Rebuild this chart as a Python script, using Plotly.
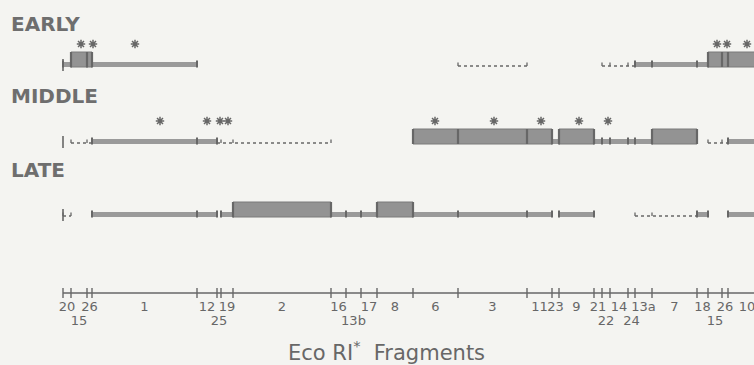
import numpy as np
import plotly.graph_objects as go

# ---------------- data ----------------
fragment_names = ['20', '15', '26', '1', '12', '25', '19', '2', '16', '13b', '17', '8', '6', '3',
                  '11', '23', '9', '21', '22', '14', '24', '13a', '7', '18', '15', '26', '10']
fragment_lengths = [8, 16, 5, 105, 20, 4, 12, 98, 15, 15, 16, 36, 45, 69,
                    25, 7, 35, 8, 8, 18, 7, 17, 45, 11, 14, 6, 38]

row_names = ['EARLY', 'MIDDLE', 'LATE']
# (kind, first fragment index, end fragment index exclusive)
early_segments = [('thin', 0, 4), ('box', 1, 3), ('dot', 13, 14), ('dot', 18, 21),
                  ('thin', 21, 24), ('box', 24, 27)]
middle_segments = [('dot', 1, 3), ('thin', 3, 5), ('dot', 5, 8), ('box', 12, 15), ('thin', 15, 16),
                   ('box', 16, 17), ('thin', 17, 22), ('box', 22, 23), ('dot', 24, 26), ('thin', 26, 27)]
late_segments = [('dot', 0, 1), ('thin', 3, 5), ('thin', 6, 7), ('box', 7, 8), ('thin', 8, 11),
                 ('box', 11, 12), ('thin', 12, 15), ('thin', 16, 17), ('dot', 21, 23),
                 ('thin', 23, 24), ('thin', 26, 27)]
early_asterisks = [18, 30, 72, 654, 664, 684]
middle_asterisks = [97, 144, 157, 165, 372, 431, 478, 516, 545]
late_asterisks = []

# ---------------- style / layout ----------------
W, H = 754, 365
X0 = 63                       # pixel where map starts
baseline = {'EARLY': 67, 'MIDDLE': 144, 'LATE': 217}
row_label_y = {'EARLY': 24, 'MIDDLE': 96, 'LATE': 170}
AXIS_Y = 293
LABEL_Y_UP, LABEL_Y_LOW = 308, 322
TITLE_X, TITLE_Y = 386, 351
lower_label_idx = {1, 5, 9, 18, 20, 24}
BG = '#f4f4f1'
INK = '#676767'
BOX_FILL = '#939393'
THIN_FILL = '#9a9a9a'
FONT = 'DejaVu Sans'

bounds = np.concatenate([[0], np.cumsum(fragment_lengths)])
centers = (bounds[:-1] + bounds[1:]) / 2

segments = {'EARLY': early_segments, 'MIDDLE': middle_segments, 'LATE': late_segments}
asterisks = {'EARLY': early_asterisks, 'MIDDLE': middle_asterisks, 'LATE': late_asterisks}

fig = go.Figure()

def vsegs(xs, y0, y1):
    X, Y = [], []
    for x in xs:
        X += [x, x, None]
        Y += [y0, y1, None]
    return X, Y

thin_b, thin_x, thin_y = [], [], []
box_b, box_x, box_y = [], [], []
thin_ticks, box_divs, dot_lines, dot_ticks, left_ticks = ([], []), ([], []), ([], []), ([], []), ([], [])

def add(acc, X, Y):
    acc[0].extend(X)
    acc[1].extend(Y)

for r in row_names:
    B = baseline[r]
    X, Y = vsegs([0], B - 8, B + 4)
    add(left_ticks, X, Y)
    for kind, a, b in segments[r]:
        if kind == 'thin':
            for i in range(a, b):
                thin_b.append(bounds[i]); thin_x.append(fragment_lengths[i]); thin_y.append(B - 2.5)
            X, Y = vsegs(bounds[a:b + 1], B - 6.5, B + 0.5)
            add(thin_ticks, X, Y)
        elif kind == 'box':
            for i in range(a, b):
                box_b.append(bounds[i]); box_x.append(fragment_lengths[i]); box_y.append(B - 7.5)
            X, Y = vsegs(bounds[a:b + 1], B - 15, B)
            add(box_divs, X, Y)
        else:
            add(dot_lines, [bounds[a], bounds[b], None], [B - 1, B - 1, None])
            X, Y = vsegs(bounds[a:b + 1], B - 4.5, B - 1)
            add(dot_ticks, X, Y)

fig.add_trace(go.Bar(orientation='h', base=thin_b, x=thin_x, y=thin_y, width=5,
                     marker=dict(color=THIN_FILL, line=dict(width=0)), showlegend=False))
fig.add_trace(go.Bar(orientation='h', base=box_b, x=box_x, y=box_y, width=15,
                     marker=dict(color=BOX_FILL, line=dict(width=1, color='#7a7a7a')), showlegend=False))
for acc, w in [(thin_ticks, 2), (box_divs, 2.2), (left_ticks, 1.6), (dot_ticks, 1.3)]:
    fig.add_trace(go.Scatter(x=acc[0], y=acc[1], mode='lines',
                             line=dict(color=INK, width=w), showlegend=False))
fig.add_trace(go.Scatter(x=dot_lines[0], y=dot_lines[1], mode='lines',
                         line=dict(color=INK, width=1.3, dash='dot'), showlegend=False))

# asterisks
ax, ay = [], []
for r in row_names:
    ax += asterisks[r]
    ay += [baseline[r] - 23] * len(asterisks[r])
fig.add_trace(go.Scatter(x=ax, y=ay, mode='markers',
                         marker=dict(symbol='asterisk-open', size=7, color=INK,
                                     line=dict(color=INK, width=1.5)), showlegend=False))

# map axis
fig.add_trace(go.Scatter(x=[bounds[0], bounds[-1]], y=[AXIS_Y, AXIS_Y], mode='lines',
                         line=dict(color=INK, width=1.6), showlegend=False))
X, Y = vsegs(bounds[:-1], AXIS_Y - 5, AXIS_Y + 5)
fig.add_trace(go.Scatter(x=X, y=Y, mode='lines', line=dict(color=INK, width=1.4), showlegend=False))
ly = [LABEL_Y_LOW if i in lower_label_idx else LABEL_Y_UP for i in range(len(fragment_names))]
fig.add_trace(go.Scatter(x=centers, y=ly, mode='text', text=fragment_names,
                         textfont=dict(family=FONT, size=13, color=INK), showlegend=False))

for r in row_names:
    fig.add_annotation(x=9 / W, xref='paper', y=row_label_y[r], yref='y', text='<b>%s</b>' % r,
                       showarrow=False, xanchor='left', yanchor='middle',
                       font=dict(family=FONT, size=20, color='#6e6e6e'))
fig.add_annotation(x=TITLE_X - X0, xref='x', y=TITLE_Y, yref='y',
                   text='Eco RI<sup>*</sup>  Fragments', showarrow=False,
                   font=dict(family=FONT, size=21, color=INK))

fig.update_layout(width=W, height=H, margin=dict(l=0, r=0, t=0, b=0),
                  paper_bgcolor=BG, plot_bgcolor=BG, barmode='overlay',
                  xaxis=dict(range=[-X0, W - X0], visible=False, fixedrange=True),
                  yaxis=dict(range=[H, 0], visible=False, fixedrange=True))
fig.write_html('out.html', config={'displayModeBar': False},
               post_script="document.body.style.margin='0';document.body.style.background='%s';" % BG)
